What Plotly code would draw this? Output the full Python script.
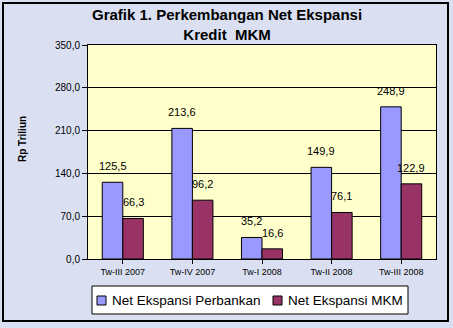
import plotly.graph_objects as go

categories = ["Tw-III 2007", "Tw-IV 2007", "Tw-I 2008", "Tw-II 2008", "Tw-III 2008"]
perbankan = [125.5, 213.6, 35.2, 149.9, 248.9]
mkm = [66.3, 96.2, 16.6, 76.1, 122.9]
series_names = ["Net Ekspansi Perbankan", "Net Ekspansi MKM"]
series_colors = ["#9999FF", "#993366"]
ytick_vals = [0, 70, 140, 210, 280, 350]
ytick_text = ["0,0", "70,0", "140,0", "210,0", "280,0", "350,0"]

def fmt(v):
    return f"{v:.1f}".replace(".", ",")

# plot area geometry (pixels)
L, T, W, H = 88, 45, 348, 214
def X(px):
    return (px - L) / W
def Y(py):
    return (T + H - py) / H

lbl_font = dict(family="Arial, Liberation Sans", size=11, color="#000000")

fig = go.Figure()
for name, vals, col in zip(series_names, [perbankan, mkm], series_colors):
    fig.add_trace(go.Bar(
        x=categories, y=vals, name=name, showlegend=False,
        marker=dict(color=col, line=dict(color="#000000", width=1)),
    ))

bargap = 0.41
half_bar = W / len(categories) * (1 - bargap) / 4

annotations = [
    dict(
        text="<b>Grafik 1. Perkembangan Net Ekspansi<br>Kredit  MKM</b>",
        xref="paper", yref="paper", x=X(227), y=Y(4),
        xanchor="center", yanchor="top", showarrow=False,
        font=dict(family="Arial, Liberation Sans", size=15, color="#000000"),
    ),
    dict(
        text="<b>Rp Triliun</b>", textangle=-90,
        xref="paper", yref="paper", x=X(22), y=Y(139),
        xanchor="center", yanchor="middle", showarrow=False,
        font=dict(family="Arial, Liberation Sans", size=10, color="#000000"),
    ),
]
for series, shift in ((perbankan, -half_bar), (mkm, half_bar)):
    for c, v in zip(categories, series):
        annotations.append(dict(
            x=c, y=v, xref="x", yref="y", text=fmt(v), showarrow=False,
            xanchor="center", yanchor="bottom", xshift=shift, yshift=8,
            font=lbl_font,
        ))

shapes = [
    dict(type="rect", xref="paper", yref="paper",
         x0=X(3), x1=X(448), y0=Y(321), y1=Y(3),
         line=dict(color="#000000", width=2), fillcolor="rgba(0,0,0,0)", layer="below"),
    # legend box
    dict(type="rect", xref="paper", yref="paper",
         x0=X(92), x1=X(408), y0=Y(314), y1=Y(286),
         line=dict(color="#000000", width=1), fillcolor="#FFFFFF", layer="above"),
]
legend_sym_x = [97, 273]
legend_txt_x = [110, 286]
for name, col, sx, tx in zip(series_names, series_colors, legend_sym_x, legend_txt_x):
    shapes.append(dict(type="rect", xref="paper", yref="paper",
                       x0=X(sx), x1=X(sx + 9), y0=Y(305), y1=Y(296),
                       line=dict(color="#000000", width=1), fillcolor=col, layer="above"))
    annotations.append(dict(
        text=name, xref="paper", yref="paper", x=X(tx), y=Y(300.5),
        xanchor="left", yanchor="middle", showarrow=False,
        font=dict(family="Arial, Liberation Sans", size=13.5, color="#000000"),
    ))

fig.update_layout(
    width=453, height=328,
    margin=dict(l=L, r=453 - L - W, t=T, b=328 - T - H, autoexpand=False),
    paper_bgcolor="#dae0f1",
    plot_bgcolor="#FFFFCC",
    barmode="group", bargap=bargap, bargroupgap=0,
    font=dict(family="Arial, Liberation Sans", color="#000000"),
    showlegend=False,
    xaxis=dict(
        showline=True, linecolor="#000000", linewidth=1, mirror=True,
        ticks="outside", ticklen=4, tickcolor="#000000",
        tickfont=dict(family="Liberation Sans Narrow, Arial Narrow, Arial", size=9),
        showgrid=False,
    ),
    yaxis=dict(
        range=[0, 350], tickvals=ytick_vals, ticktext=ytick_text,
        showline=True, linecolor="#000000", linewidth=1, mirror=True,
        ticks="outside", ticklen=5, tickcolor="#000000",
        showgrid=True, gridcolor="#000000", gridwidth=1,
        tickfont=dict(family="Arial, Liberation Sans", size=10),
        zeroline=False,
    ),
    annotations=annotations,
    shapes=shapes,
)

fig.write_html("out.html")
